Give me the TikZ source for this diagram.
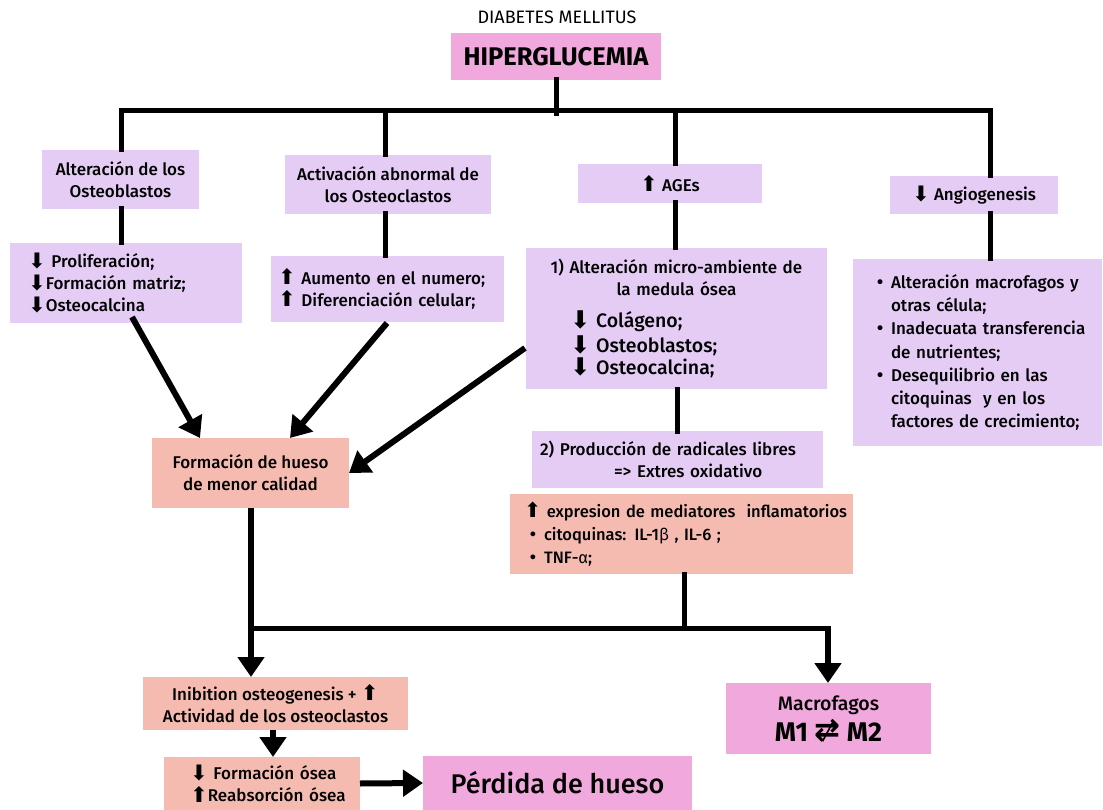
\documentclass[tikz,border=0pt]{standalone}
\usepackage{graphicx}
\usepackage{fontspec}
\setmainfont{Fira Sans}[UprightFont={* Medium},BoldFont={* Bold}]
\newfontfamily\symf{DejaVu Sans}
\newfontfamily\symfb{DejaVu Sans Bold}
\newfontfamily\thinf{Fira Sans}
\usetikzlibrary{arrows.meta}
\definecolor{lav}{HTML}{E5CCF5}
\definecolor{sal}{HTML}{F5BBB1}
\definecolor{pk}{HTML}{F1A8DC}
\newcommand{\arrdn}{\raisebox{-0.5pt}{\scalebox{1.25}{\symf\char"2B07}}}
\newcommand{\arrup}{\raisebox{-0.5pt}{\scalebox{1.25}{\symf\char"2B06}}}
\newcommand{\nconv}{\ooalign{\raisebox{1pt}{\scalebox{1.15}{\symfb\char"21C4}}\cr\hidewidth\raisebox{0pt}{\rotatebox{62}{\rule{21pt}{1.6pt}}}\hidewidth\cr}}
\newcommand{\bul}{\makebox[16pt][l]{\symf\char"2022}}
\begin{document}
\begin{tikzpicture}[x=1pt,y=-1pt,
  box/.style={inner sep=0pt, outer sep=0pt, align=center, font=\fontsize{17}{22}\selectfont},
  lavbox/.style={box, fill=lav},
  salbox/.style={box, fill=sal},
  pkbox/.style={box, fill=pk},
  ln/.style={line width=5pt, line cap=rect},
  arr/.style={line width=6pt, -{Triangle[length=20pt,width=26pt]}}]
\useasboundingbox[fill=white] (0,0) rectangle (1103,810);

% title
\node[font=\thinf\fontsize{18}{20}\selectfont, inner sep=0pt] (title) at (557,17) {DIABETES MELLITUS};
\node[pkbox, minimum width=210pt, minimum height=47pt, font=\bfseries\fontsize{25.5}{28}\selectfont] (hg) at (556,56.5) {HIPERGLUCEMIA};

% first level
\node[lavbox, minimum width=157pt, minimum height=59pt] (ob) at (120.5,179.5) {Alteración de los\\Osteoblastos};
\node[lavbox, minimum width=206pt, minimum height=59pt] (oc) at (388,184.5) {Activación abnormal de\\los Osteoclastos};
\node[lavbox, minimum width=184pt, minimum height=39pt] (age) at (670,183.5) {\arrup\ AGEs};
\node[lavbox, minimum width=168pt, minimum height=38pt] (ang) at (974,195) {\arrdn\ Angiogenesis};

% second level
\node[lavbox, align=left, inner xsep=18pt, text width=196pt, minimum height=80pt] (prol) at (126,283)
  {\mbox{\arrdn\ Proliferación;}\\\mbox{\arrdn Formación matriz;}\\\mbox{\arrdn Osteocalcina}};
\node[lavbox, align=left, inner xsep=7pt, text width=219pt, minimum height=66pt] (aum) at (387.5,289)
  {\mbox{\arrup\ Aumento en el numero;}\\\mbox{\arrup\ Diferenciación celular;}};
\node[lavbox, align=left, inner xsep=15pt, text width=271pt, minimum height=141pt] (age1) at (676.5,318.5)
  {\makebox[\hsize][c]{1) Alteración micro-ambiente de}\\
   \makebox[\hsize][c]{la medula ósea}\\[7pt]
   {\fontsize{19.5}{25}\selectfont\hspace*{29pt}\arrdn\ Colágeno;\\
   \hspace*{29pt}\arrdn\ Osteoblastos;\\
   \hspace*{29pt}\arrdn\ Osteocalcina;}};
\node[lavbox, align=left, inner xsep=22pt, text width=205pt, minimum height=187pt, font=\fontsize{17}{23.2}\selectfont] (angl) at (977.5,352.5)
  {\mbox{\bul Alteración macrofagos y}\\
   \mbox{\hspace*{16pt}otras célula;}\\
   \mbox{\bul Inadecuata transferencia}\\
   \mbox{\hspace*{16pt}de nutrientes;}\\
   \mbox{\bul Desequilibrio en las}\\
   \mbox{\hspace*{16pt}citoquinas\ \ y en los}\\
   \mbox{\hspace*{16pt}factores de crecimiento;}};

\node[lavbox, align=left, inner xsep=8pt, text width=275pt, minimum height=57pt] (prod) at (677.5,459.5)
  {\mbox{2) Producción de radicales libres}\\\hspace*{74pt}=> Extres oxidativo};
\node[salbox, align=left, inner xsep=14pt, text width=315pt, minimum height=80pt, font=\fontsize{16.5}{23}\selectfont] (expr) at (681.5,534)
  {\mbox{\arrup\ expresion de mediatores\ \ inflamatorios}\\
   \mbox{\hspace*{4pt}\bul citoquinas: IL-1{\thinf β} , IL-6 ;}\\
   \mbox{\hspace*{4pt}\bul TNF-{\thinf α};}};

\node[salbox, minimum width=197pt, minimum height=70pt] (fh) at (250.5,473) {Formación de hueso\\de menor calidad};

% bottom
\node[salbox, minimum width=265pt, minimum height=53pt] (inh) at (275.5,703.5) {Inibition osteogenesis + \arrup\\Actividad de los osteoclastos};
\node[salbox, align=left, inner xsep=26pt, text width=144pt, minimum height=53pt] (fo) at (262,783.5) {\mbox{\arrdn\ Formación ósea}\\\mbox{\arrup Reabsorción ósea}};
\node[pkbox, minimum width=269pt, minimum height=54pt, font=\fontsize{27}{30}\selectfont] (pe) at (557.5,783) {Pérdida de hueso};
\node[pkbox, minimum width=205pt, minimum height=71pt] (mac) at (828.5,718.5) {{\fontsize{19.5}{22}\selectfont Macrofagos}\\[4pt]{\bfseries\fontsize{27}{28}\selectfont M1 \nconv\ M2}};

% tree connectors
\coordinate (barL) at (121,111);
\coordinate (barR) at (990,111);
\coordinate (d2) at (385,111);
\coordinate (d3) at (675,111);
\draw[ln] (hg.south) -- (hg.south |- 0,114);
\draw[ln] (barL) -- (barR);
\draw[ln] (barL) -- (barL |- ob.north);
\draw[ln] (d2) -- (d2 |- oc.north);
\draw[ln] (d3) -- (d3 |- age.north);
\draw[ln] (barR) -- (barR |- ang.north);
\draw[ln] (barL |- ob.south) -- (barL |- prol.north);
\draw[ln] (d2 |- oc.south) -- (d2 |- aum.north);
\draw[ln] (d3 |- age.south) -- (d3 |- age1.north);
\draw[ln] (barR |- ang.south) -- (barR |- angl.north);
\draw[ln] (677,0 |- age1.south) -- (677,0 |- prod.north);

% diagonal arrows
\coordinate (s1) at (132,317);
\coordinate (s2) at (387,323);
\coordinate (s3) at (525,348);
\draw[arr] (s1) -- (fh.north -| 200,0);
\draw[arr] (s2) -- (fh.north -| 290,0);
\draw[arr] (s3) -- (fh.east);

% lower bar
\coordinate (b2L) at (251,628);
\coordinate (b2R) at (828,628);
\draw[ln] (b2L) -- (b2R);
\draw[ln] (684,0 |- expr.south) -- (684,628);
\draw[arr] (fh.south -| b2L) -- (b2L |- inh.north);
\draw[arr] (b2R) -- (b2R |- mac.north);
\draw[arr] (273,0 |- inh.south) -- (273,0 |- fo.north);
\draw[arr] (fo.east) -- (pe.west);
\end{tikzpicture}
\end{document}
